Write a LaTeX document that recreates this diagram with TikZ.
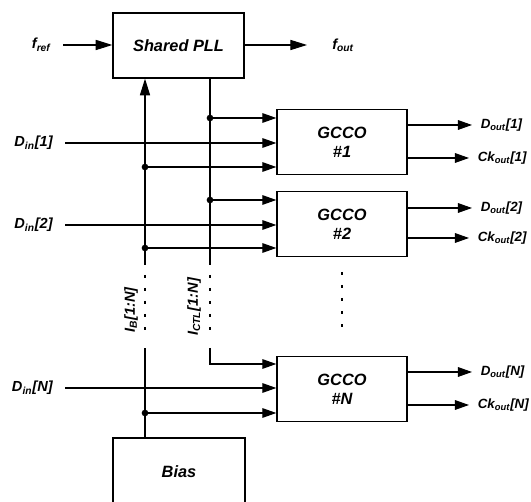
\documentclass[tikz,border=0pt]{standalone}
\usepackage{fontspec}
\setmainfont{Liberation Sans}
\usetikzlibrary{arrows.meta}

\begin{document}
\begin{tikzpicture}[x=0.02cm,y=-0.02cm,>={Triangle[length=8pt,width=5.5pt]},
  every node/.style={font=\fontsize{8.3}{10}\selectfont\bfseries\itshape},
  blk/.style={draw,line width=0.8pt,minimum width=2.6cm,minimum height=1.3cm,
    align=center,font=\fontsize{9.3}{11}\selectfont\bfseries\itshape},
  lbl/.style={inner sep=0pt,outer xsep=7pt},
  olbl/.style={lbl,outer xsep=5pt,font=\fontsize{7.6}{9}\selectfont\bfseries\itshape},
  wire/.style={line width=0.6pt},
  bus/.style={line width=1pt,dash pattern=on 1.7pt off 5.7pt},
  jdot/.style={circle,fill,inner sep=0pt,minimum size=3.8pt}]
  \useasboundingbox (0,0) rectangle (531,502);
  \clip (0,0) rectangle (531,502);

  % blocks
  \node[blk,minimum width=2.62cm] (pll) at (178.5,45.5) {Shared PLL};
  \node[blk] (gcco1) at (342,142) {GCCO\\\#1};
  \node[blk] (gcco2) at (342,224) {GCCO\\\#2};
  \node[blk] (gccoN) at (342,389) {GCCO\\\#N};
  \node[blk,minimum width=2.64cm,minimum height=1.36cm] (bias) at (179,472) {Bias};

  % reference in, clock out
  \node[lbl,anchor=east] (fref) at (63,45) {f\textsubscript{ref}};
  \node[lbl,anchor=west] (fout) at (320,45) {f\textsubscript{out}};
  \coordinate (foutend) at (307,45);
  \draw[wire,-{Triangle[length=9.5pt,width=5.8pt]}] (fref.east) -- (fref.east -| pll.west);
  \draw[wire,-{Triangle[length=9.5pt,width=5.8pt]}] (pll.east |- foutend) -- (foutend);

  % data inputs
  \node[lbl,anchor=east] (din1) at (65,143) {D\textsubscript{in}[1]};
  \node[lbl,anchor=east] (din2) at (65,225) {D\textsubscript{in}[2]};
  \node[lbl,anchor=east] (dinN) at (65,388) {D\textsubscript{in}[N]};
  \draw[wire,->] (din1.east) -- (din1.east -| gcco1.west);
  \draw[wire,->] (din2.east) -- (din2.east -| gcco2.west);
  \draw[wire,->] (dinN.east) -- (dinN.east -| gccoN.west);

  % outputs
  \foreach \n/\yd/\yc in {1/125/158,2/208/238,N/372/405}{
    \node[olbl,anchor=west] (dout\n) at (472,\yd) {D\textsubscript{out}[\n]};
    \node[olbl,anchor=west] (ckout\n) at (469,\yc) {Ck\textsubscript{out}[\n]};
    \draw[wire,->] (dout\n.west -| gcco\n.east) -- (dout\n.west);
    \draw[wire,->] (ckout\n.west -| gcco\n.east) -- (ckout\n.west);
  }

  % control current bus
  \coordinate (ctl1) at (210,118);
  \coordinate (ctl2) at (210,200);
  \coordinate (ctlA) at (210,262);
  \coordinate (ctlB) at (210,335);
  \coordinate (ctlC) at (210,348);
  \coordinate (ctlN) at (210,364);
  \draw[wire] (pll.south -| ctl1) -- (ctlA);
  \draw[bus] (ctlA) -- (ctlB);
  \draw[wire,->] (ctlC) -- (ctlN) -- (ctlN -| gccoN.west);
  \draw[wire,->] (ctl1) -- (ctl1 -| gcco1.west);
  \draw[wire,->] (ctl2) -- (ctl2 -| gcco2.west);
  \node[rotate=90] (ictl) at (194,307) {I\textsubscript{CTL}[1:N]};

  % bias current bus
  \coordinate (ib1) at (145,167);
  \coordinate (ib2) at (145,248);
  \coordinate (ibA) at (145,262);
  \coordinate (ibB) at (145,335);
  \coordinate (ibC) at (145,348);
  \coordinate (ibN) at (145,413);
  \draw[wire,-{Triangle[length=9.5pt,width=5.8pt]}] (ibA) -- (pll.south -| ibA);
  \draw[bus] (ibA) -- (ibB);
  \draw[wire] (bias.north -| ibC) -- (ibC);
  \draw[wire,->] (ib1) -- (ib1 -| gcco1.west);
  \draw[wire,->] (ib2) -- (ib2 -| gcco2.west);
  \draw[wire,->] (ibN) -- (ibN -| gccoN.west);
  \node[rotate=90] (ib) at (131,310) {I\textsubscript{B}[1:N]};

  \foreach \p in {ctl1,ctl2,ib1,ib2,ibN}
    \node[jdot] at (\p) {};

  % more channels
  \draw[bus] (342,272) -- (342,330);
\end{tikzpicture}
\end{document}
